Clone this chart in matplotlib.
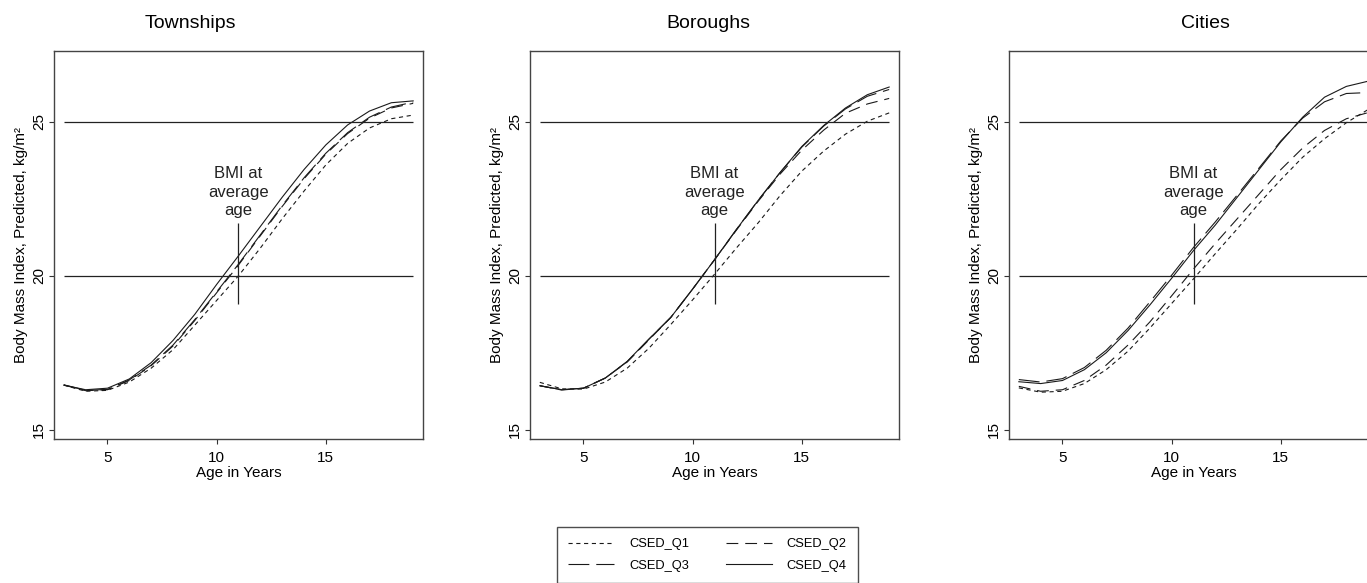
import matplotlib
matplotlib.use("Agg")
import matplotlib.pyplot as plt
from matplotlib.lines import Line2D

plt.rcParams['font.family'] = ['Liberation Sans', 'DejaVu Sans']
plt.rcParams['lines.scale_dashes'] = False

# Age in years
ages = [3, 4, 5, 6, 7, 8, 9, 10, 11, 12, 13, 14, 15, 16, 17, 18, 19]

panels = ["Townships", "Boroughs", "Cities"]
series = ["CSED_Q1", "CSED_Q2", "CSED_Q3", "CSED_Q4"]

# predicted BMI
town_q1 = [16.45, 16.25, 16.28, 16.55, 17.00, 17.60, 18.40, 19.20, 20.00, 20.90, 21.85, 22.75, 23.60, 24.30, 24.80, 25.10, 25.22]
town_q2 = [16.45, 16.27, 16.30, 16.60, 17.08, 17.72, 18.55, 19.45, 20.35, 21.30, 22.25, 23.15, 23.95, 24.62, 25.12, 25.45, 25.60]
town_q3 = [16.46, 16.28, 16.31, 16.62, 17.10, 17.75, 18.58, 19.48, 20.38, 21.33, 22.28, 23.18, 23.98, 24.65, 25.15, 25.48, 25.64]
town_q4 = [16.45, 16.30, 16.35, 16.65, 17.18, 17.90, 18.75, 19.72, 20.65, 21.60, 22.55, 23.45, 24.25, 24.90, 25.35, 25.62, 25.68]

boro_q1 = [16.54, 16.33, 16.32, 16.55, 17.00, 17.65, 18.42, 19.22, 20.05, 20.90, 21.72, 22.60, 23.40, 24.05, 24.60, 25.02, 25.29]
boro_q2 = [16.43, 16.29, 16.35, 16.68, 17.20, 17.92, 18.65, 19.57, 20.52, 21.48, 22.42, 23.30, 24.08, 24.73, 25.28, 25.58, 25.76]
boro_q3 = [16.43, 16.30, 16.35, 16.68, 17.21, 17.94, 18.65, 19.57, 20.52, 21.50, 22.45, 23.35, 24.18, 24.86, 25.42, 25.83, 26.05]
boro_q4 = [16.43, 16.30, 16.35, 16.68, 17.22, 17.95, 18.65, 19.57, 20.52, 21.50, 22.45, 23.35, 24.20, 24.88, 25.45, 25.88, 26.13]

city_q1 = [16.36, 16.22, 16.25, 16.50, 16.95, 17.55, 18.30, 19.10, 19.90, 20.72, 21.52, 22.35, 23.12, 23.85, 24.45, 24.97, 25.40]
city_q2 = [16.41, 16.25, 16.30, 16.60, 17.10, 17.75, 18.50, 19.35, 20.22, 21.05, 21.85, 22.65, 23.45, 24.15, 24.72, 25.10, 25.30]
city_q3 = [16.63, 16.55, 16.66, 17.02, 17.58, 18.30, 19.15, 20.02, 20.92, 21.75, 22.62, 23.50, 24.38, 25.12, 25.65, 25.92, 25.95]
city_q4 = [16.56, 16.50, 16.60, 16.95, 17.50, 18.22, 19.05, 19.92, 20.82, 21.65, 22.55, 23.45, 24.35, 25.15, 25.80, 26.15, 26.32]

panel_data = [
    [town_q1, town_q2, town_q3, town_q4],
    [boro_q1, boro_q2, boro_q3, boro_q4],
    [city_q1, city_q2, city_q3, city_q4],
]

ref_lines = [20, 25]
avg_age = 11
label_x = [190, 708, 1205]  # title centres, px

# dash patterns (points)
styles = [(0, (3, 2.6)), (0, (8.5, 5)), (0, (15, 5)), '-']

W, H = 1367, 583
fig = plt.figure(figsize=(W / 100, H / 100), dpi=100)

lefts = [54, 530, 1009]
for i, name in enumerate(panels):
    ax = fig.add_axes([lefts[i] / W, 1 - 439 / H, 369 / W, 388 / H])
    for j, vals in enumerate(panel_data[i]):
        ax.plot(ages, vals, color='#1a1a1a', lw=0.8, linestyle=styles[j])
    ax.hlines(ref_lines, ages[0], ages[-1], color='#222222', lw=0.9)
    ax.vlines(avg_age, 19.1, 21.7, color='#222222', lw=0.9)
    ax.text(avg_age, 22.72, "BMI at\naverage\nage", ha='center', va='center',
            fontsize=12, linespacing=1.33, color='#222222')
    ax.set_xlim(2.55, 19.45)
    ax.set_ylim(14.7, 27.3)
    ax.set_xticks([5, 10, 15])
    ax.set_yticks([15, 20, 25])
    ax.tick_params(axis='both', labelsize=11, length=3.6, width=0.8, color='#333333')
    ax.tick_params(axis='x', pad=5)
    ax.tick_params(axis='y', labelrotation=90, pad=2)
    for lab in ax.get_yticklabels():
        lab.set_va('center')
    ax.set_xlabel("Age in Years", fontsize=11, labelpad=1)
    ax.set_ylabel("Body Mass Index, Predicted, kg/m²", fontsize=11, labelpad=3)
    for sp in ax.spines.values():
        sp.set_color('#444444')
        sp.set_linewidth(1.0)
    fig.text(label_x[i] / W, 1 - 24 / H, name, ha='center', va='center', fontsize=14)

handles = [Line2D([], [], color='#1a1a1a', lw=0.8, linestyle=s) for s in styles]
# legend fills column-wise: rows read Q1 Q2 / Q3 Q4
order = [0, 2, 1, 3]
fig.legend([handles[k] for k in order], [series[k] for k in order], ncol=2,
           loc='upper left', bbox_to_anchor=(557 / W, 1 - 527 / H),
           fontsize=9.3, frameon=True, fancybox=False, edgecolor='#222222',
           handlelength=3.6, handletextpad=1.15, columnspacing=2.8,
           labelspacing=0.75, borderpad=0.85, borderaxespad=0)

fig.savefig("out.png", dpi=100)
